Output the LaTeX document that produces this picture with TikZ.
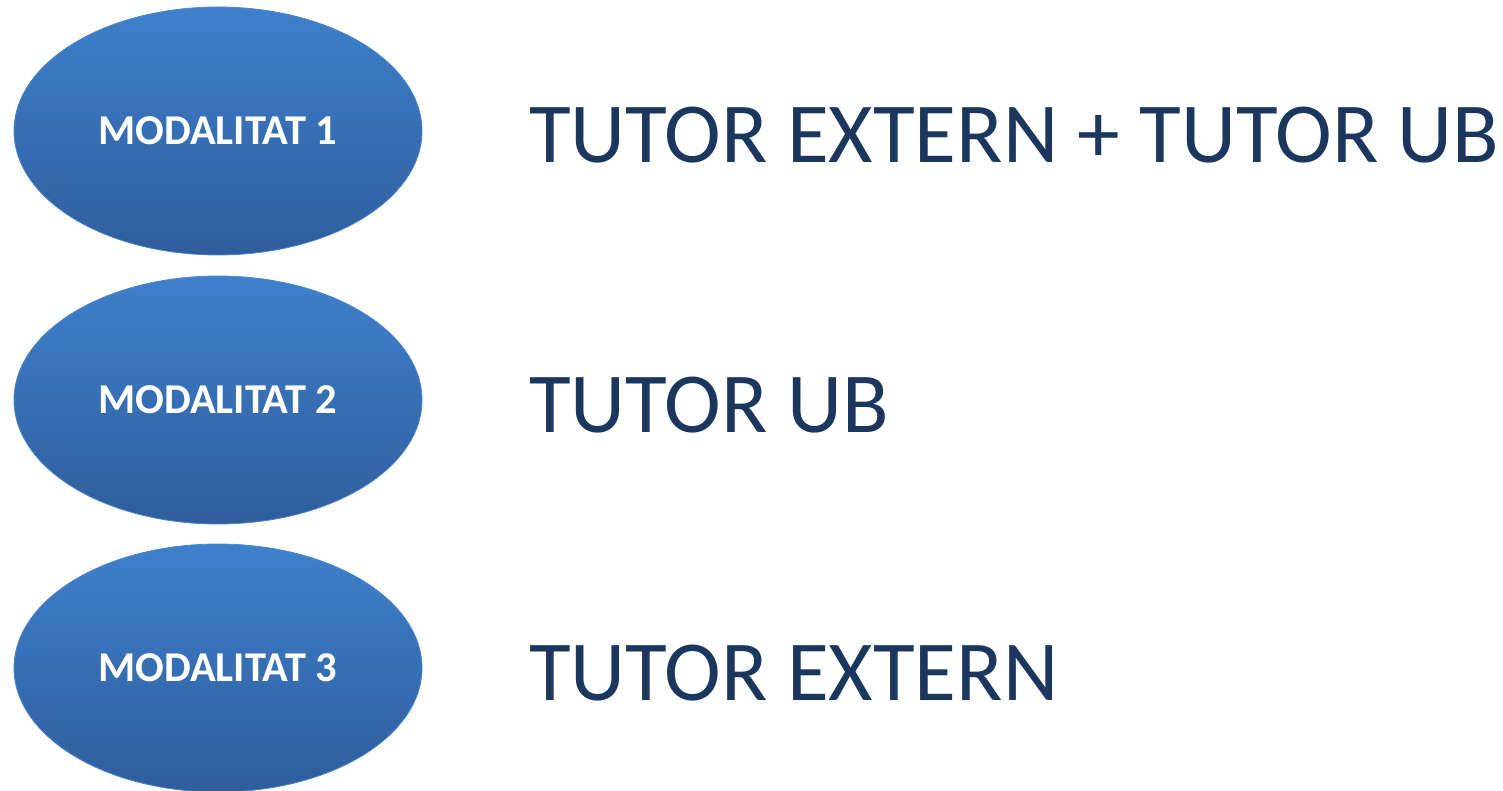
\documentclass[tikz,border=0pt]{standalone}
\usepackage{fontspec}
\setmainfont{Carlito}
\usetikzlibrary{shapes.geometric}
\definecolor{elltop}{HTML}{3E80CC}
\definecolor{ellbot}{HTML}{2F5D9C}
\definecolor{ellborder}{HTML}{4A86CC}
\definecolor{txtblue}{HTML}{1B375E}
\tikzset{
  modal/.style={ellipse, minimum width=408pt, minimum height=248pt, inner sep=0pt,
    top color=elltop, bottom color=ellbot, draw=ellborder, line width=0.8pt,
    text=white, font=\fontsize{42.5}{50}\selectfont\bfseries},
  tutor/.style={anchor=base west, inner sep=0pt, text=txtblue, font=\fontsize{85.5}{100}\selectfont}
}
\begin{document}
\begin{tikzpicture}[x=1pt,y=-1pt]
\useasboundingbox (0,0) rectangle (1503,791);
\node[modal] (m1) at (218,131) {MODALITAT 1};
\node[modal] (m2) at (218,400) {MODALITAT 2};
\node[modal] (m3) at (218,668) {MODALITAT 3};
\node[tutor] (t1) at (529,163) {TUTOR EXTERN + TUTOR UB};
\node[tutor] (t2) at (529,432) {TUTOR UB};
\node[tutor] (t3) at (529,700) {TUTOR EXTERN};
\end{tikzpicture}
\end{document}
